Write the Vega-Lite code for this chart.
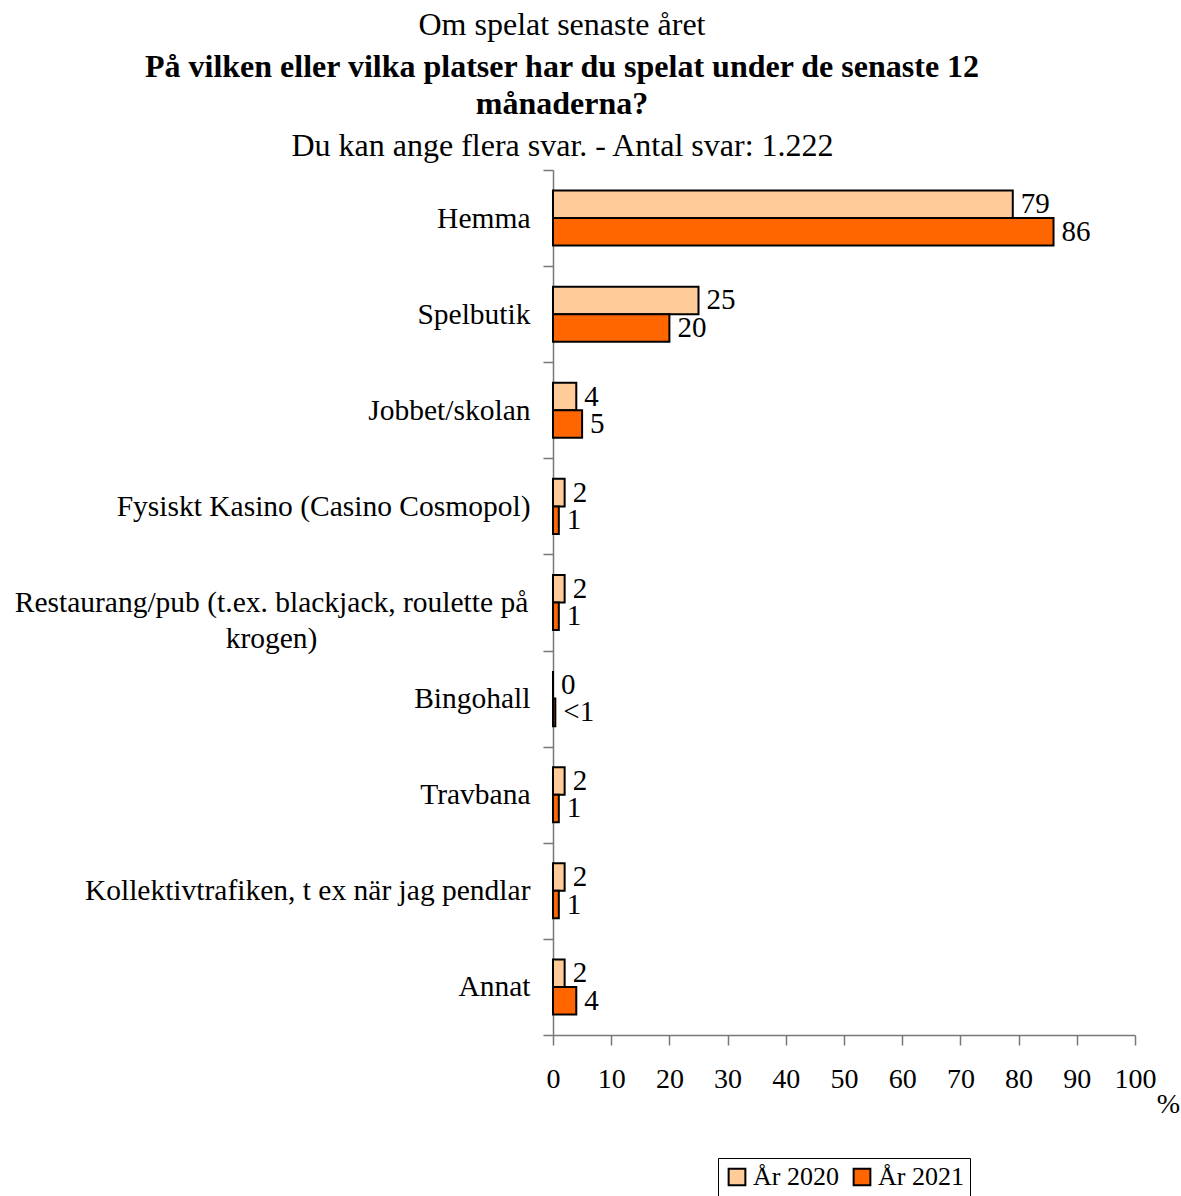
{
  "$schema": "https://vega.github.io/schema/vega-lite/v6.json",
  "width": 582,
  "height": 865,
  "padding": {"left": 14, "top": 9, "right": 5, "bottom": 5},
  "background": "white",
  "config": {
    "font": "Liberation Serif",
    "view": {"stroke": null}
  },
  "title": {
    "text": "Om spelat senaste året",
    "subtitle": ["På vilken eller vilka platser har du spelat under de senaste 12", "månaderna?"],
    "font": "Liberation Serif",
    "fontSize": 32,
    "fontWeight": "normal",
    "color": "black",
    "subtitleFont": "Liberation Serif",
    "subtitleFontSize": 32,
    "subtitleFontWeight": "bold",
    "subtitleColor": "black",
    "subtitleLineHeight": 37,
    "subtitlePadding": 10,
    "anchor": "middle",
    "frame": "group",
    "dx": -282,
    "offset": 8
  },
  "data": {
    "values": [
      {"cat": "Hemma", "year": "År 2020", "value": 79, "label": "79"},
      {"cat": "Hemma", "year": "År 2021", "value": 86, "label": "86"},
      {"cat": "Spelbutik", "year": "År 2020", "value": 25, "label": "25"},
      {"cat": "Spelbutik", "year": "År 2021", "value": 20, "label": "20"},
      {"cat": "Jobbet/skolan", "year": "År 2020", "value": 4, "label": "4"},
      {"cat": "Jobbet/skolan", "year": "År 2021", "value": 5, "label": "5"},
      {"cat": "Fysiskt Kasino (Casino Cosmopol)", "year": "År 2020", "value": 2, "label": "2"},
      {"cat": "Fysiskt Kasino (Casino Cosmopol)", "year": "År 2021", "value": 1, "label": "1"},
      {"cat": "Restaurang/pub (t.ex. blackjack, roulette på krogen)", "year": "År 2020", "value": 2, "label": "2"},
      {"cat": "Restaurang/pub (t.ex. blackjack, roulette på krogen)", "year": "År 2021", "value": 1, "label": "1"},
      {"cat": "Bingohall", "year": "År 2020", "value": 0, "label": "0"},
      {"cat": "Bingohall", "year": "År 2021", "value": 0.4, "label": "<1"},
      {"cat": "Travbana", "year": "År 2020", "value": 2, "label": "2"},
      {"cat": "Travbana", "year": "År 2021", "value": 1, "label": "1"},
      {"cat": "Kollektivtrafiken, t ex när jag pendlar", "year": "År 2020", "value": 2, "label": "2"},
      {"cat": "Kollektivtrafiken, t ex när jag pendlar", "year": "År 2021", "value": 1, "label": "1"},
      {"cat": "Annat", "year": "År 2020", "value": 2, "label": "2"},
      {"cat": "Annat", "year": "År 2021", "value": 4, "label": "4"}
    ]
  },
  "encoding": {
    "y": {
      "field": "cat",
      "type": "nominal",
      "sort": null,
      "scale": {"paddingInner": 0, "paddingOuter": 0},
      "axis": {
        "title": null,
        "domainColor": "#777777",
        "domainWidth": 1.5,
        "tickColor": "#777777",
        "tickWidth": 1.5,
        "tickSize": 10,
        "tickBand": "extent",
        "labelPadding": {"condition": {"test": "datum.value == 'Restaurang/pub (t.ex. blackjack, roulette på krogen)'", "value": 272}, "value": 13},
        "labelAlign": {"condition": {"test": "datum.value == 'Restaurang/pub (t.ex. blackjack, roulette på krogen)'", "value": "center"}, "value": "right"},
        "labelFont": "Liberation Serif",
        "labelFontSize": 29.5,
        "labelColor": "black",
        "labelLimit": 1000,
        "labelLineHeight": 36,
        "labelExpr": "datum.value == 'Restaurang/pub (t.ex. blackjack, roulette på krogen)' ? ['Restaurang/pub (t.ex. blackjack, roulette på', 'krogen)'] : datum.value"
      }
    },
    "yOffset": {
      "field": "year",
      "type": "nominal",
      "scale": {"paddingInner": 0, "paddingOuter": 0.745}
    },
    "x": {
      "field": "value",
      "type": "quantitative",
      "scale": {"domain": [0, 100], "nice": false}
    }
  },
  "layer": [
    {
      "mark": {"type": "bar", "stroke": "black", "strokeWidth": 2},
      "encoding": {
        "x": {
          "field": "value",
          "type": "quantitative",
          "scale": {"domain": [0, 100], "nice": false},
          "axis": {
            "title": "%",
            "titleFont": "Liberation Serif",
            "titleFontSize": 28,
            "titleFontWeight": "normal",
            "titleColor": "black",
            "titleX": 615,
            "titleY": 69,
            "titleAlign": "center",
            "titleBaseline": "middle",
            "values": [0, 10, 20, 30, 40, 50, 60, 70, 80, 90, 100],
            "grid": false,
            "domainColor": "#777777",
            "domainWidth": 1.5,
            "tickColor": "#777777",
            "tickWidth": 1.5,
            "tickSize": 10,
            "labelPadding": 20,
            "labelFont": "Liberation Serif",
            "labelFontSize": 28,
            "labelColor": "black",
            "labelFlush": false,
            "labelOverlap": false
          }
        },
        "color": {
          "field": "year",
          "type": "nominal",
          "scale": {"domain": ["År 2020", "År 2021"], "range": ["#FFCC99", "#FF6600"]},
          "legend": {
            "title": null,
            "orient": "none",
            "direction": "horizontal",
            "legendX": 165,
            "legendY": 988,
            "symbolType": "square",
            "symbolSize": 280,
            "symbolStrokeColor": "black",
            "symbolStrokeWidth": 2,
            "labelFont": "Liberation Serif",
            "labelFontSize": 26,
            "labelColor": "black",
            "labelOffset": 3,
            "columnPadding": 10,
            "strokeColor": "black",
            "padding": 6
          }
        }
      }
    },
    {
      "mark": {"type": "text", "align": "left", "baseline": "middle", "dx": 8, "font": "Liberation Serif", "fontSize": 29, "color": "black"},
      "encoding": {
        "text": {"field": "label"},
        "x": {
          "field": "value",
          "type": "quantitative",
          "scale": {"domain": [0, 100], "nice": false},
          "axis": {
            "orient": "top",
            "title": "Du kan ange flera svar. - Antal svar: 1.222",
            "titleFont": "Liberation Serif",
            "titleFontSize": 32,
            "titleFontWeight": "normal",
            "titleColor": "black",
            "titleX": 9,
            "titleY": -25,
            "titleAlign": "center",
            "titleBaseline": "middle",
            "domain": false,
            "ticks": false,
            "labels": false,
            "grid": false
          }
        }
      }
    }
  ],
  "resolve": {"axis": {"x": "independent"}}
}
